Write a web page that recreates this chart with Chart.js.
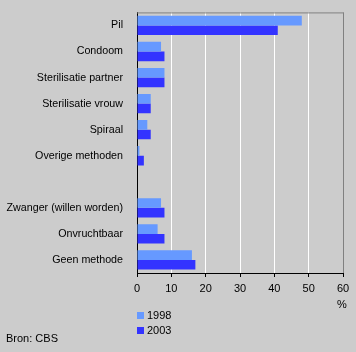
<!DOCTYPE html>
<html>
<head>
<meta charset="utf-8">
<script src="https://cdn.jsdelivr.net/npm/chart.js@4.4.1/dist/chart.umd.min.js"></script>
<style>
  html, body { margin: 0; padding: 0; background: #cccccc; }
  #wrap { position: relative; width: 356px; height: 352px; }
</style>
</head>
<body>
<div id="wrap"><canvas id="myChart" width="356" height="352"></canvas></div>
<script>
const labels = ["Pil", "Condoom", "Sterilisatie partner", "Sterilisatie vrouw", "Spiraal", "Overige methoden", "", "Zwanger (willen worden)", "Onvruchtbaar", "Geen methode"];
const y1998 = [48, 7, 8, 4, 3, 0.7, null, 7, 6, 16];
const y2003 = [41, 8, 8, 4, 4, 2, null, 8, 8, 17];
const xTicks = [0, 10, 20, 30, 40, 50, 60];
const seriesNames = ["1998", "2003"];
const colors = ['#6699ff', '#3333ff'];
const font = { family: 'Liberation Sans, Arial', size: 11 };
const labelFont = { family: 'Liberation Sans, Arial', size: 10.7 };

// legend, unit, source and top/right frame
const extras = {
    id: 'extras',
    afterDraw(chart) {
        const c = chart.ctx;
        const a = chart.chartArea;
        c.save();
        c.strokeStyle = '#808080';
        c.lineWidth = 1;
        c.beginPath();
        c.moveTo(a.left, a.top + 0.5);
        c.lineTo(a.right + 0.5, a.top + 0.5);
        c.lineTo(a.right + 0.5, a.bottom);
        c.stroke();
        c.font = '11px Liberation Sans, Arial';
        c.fillStyle = '#000';
        c.textBaseline = 'middle';
        c.textAlign = 'center';
        c.fillText('%', a.right - 1, 305);
        c.textAlign = 'left';
        for (let i = 0; i < seriesNames.length; i++) {
            const y = 312 + i * 15;
            c.fillStyle = colors[i];
            c.fillRect(a.left, y, 7, 7);
            c.fillStyle = '#000';
            c.fillText(seriesNames[i], a.left + 10, y + 4);
        }
        c.fillText('Bron: CBS', 6, 339);
        c.restore();
    }
};

const ctx = document.getElementById('myChart');
new Chart(ctx, {
    type: 'bar',
    data: {
        labels: labels,
        datasets: [{
            label: seriesNames[0],
            data: y1998,
            backgroundColor: colors[0],
            categoryPercentage: 0.74,
            barPercentage: 1
        }, {
            label: seriesNames[1],
            data: y2003,
            backgroundColor: colors[1],
            categoryPercentage: 0.74,
            barPercentage: 1
        }]
    },
    options: {
        indexAxis: 'y',
        responsive: false,
        animation: false,
        layout: { padding: { top: 11, right: 13, left: 0, bottom: 0 } },
        plugins: { legend: { display: false }, tooltip: { enabled: false } },
        scales: {
            x: {
                min: 0, max: 60,
                afterBuildTicks: s => { s.ticks = xTicks.map(v => ({ value: v })); },
                afterFit: s => { s.height = 79; },
                border: { color: '#000', width: 1 },
                grid: {
                    color: c => c.tick.value === 60 ? '#808080' : (c.tick.value === 0 ? 'rgba(0,0,0,0)' : '#ffffff'),
                    tickColor: '#000',
                    tickLength: 4,
                    lineWidth: 1
                },
                ticks: { color: '#000', font: font, padding: 5, maxRotation: 0 }
            },
            y: {
                afterFit: s => { s.width = 137; },
                border: { color: '#000', width: 1 },
                grid: { display: false },
                ticks: { color: '#000', font: labelFont, padding: 6, autoSkip: false }
            }
        }
    },
    plugins: [extras]
});
</script>
</body>
</html>
